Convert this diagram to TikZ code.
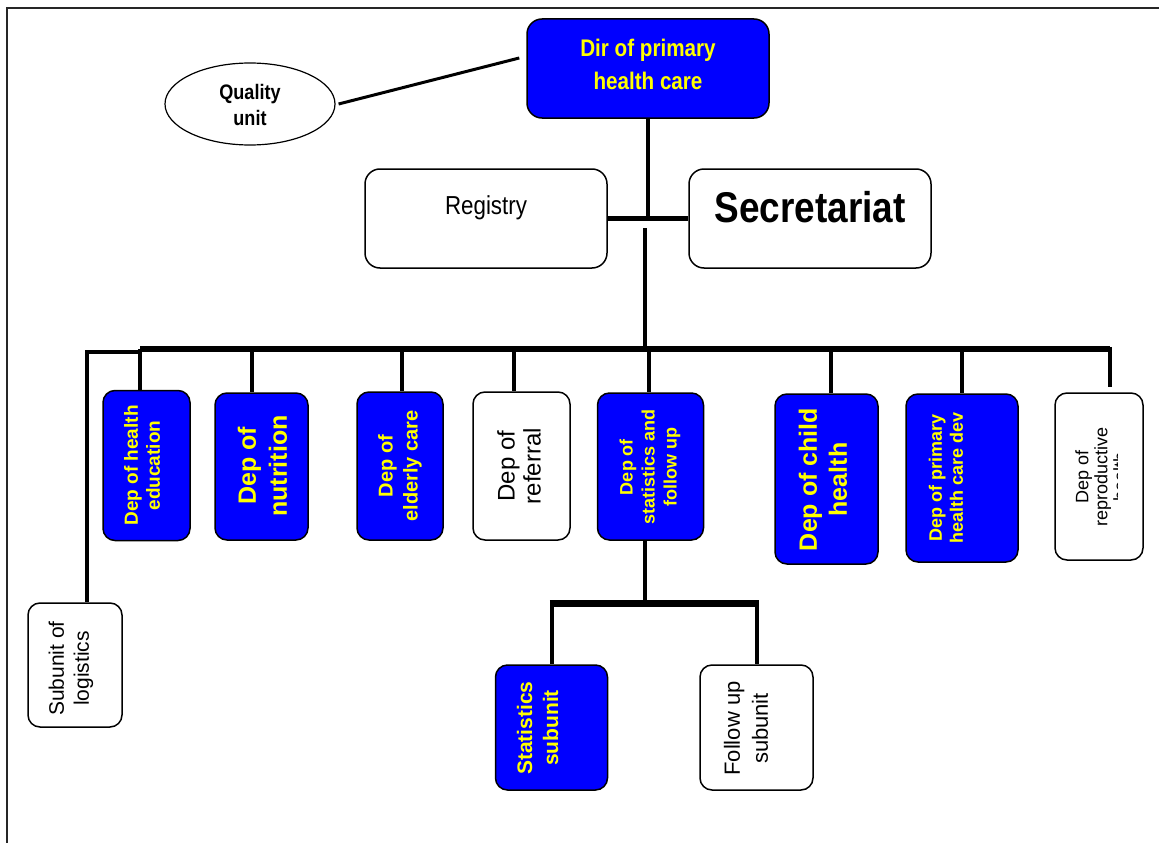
\documentclass[tikz,border=0pt]{standalone}
\usepackage{fontspec}
\setmainfont{Liberation Sans}
\newfontfamily\condfont[FakeStretch=0.86]{Liberation Sans}
\usetikzlibrary{shapes.geometric}
\definecolor{deptblue}{RGB}{0,0,255}
\definecolor{deptyellow}{RGB}{255,255,0}
\tikzset{
  box/.style={draw=black, line width=1.5pt, rounded corners=12pt, inner sep=0pt},
  bluebox/.style={box, fill=deptblue},
  whitebox/.style={box, fill=white},
  conn/.style={line width=4.5pt},
  vtext/.style={rotate=90, align=center, inner sep=0pt},
  ytext/.style={vtext, text=deptyellow},
  btext/.style={vtext, text=black},
}
\begin{document}
\begin{tikzpicture}[x=1pt,y=-1pt]
\useasboundingbox (0,0) rectangle (1159,843);
% frame
\draw[line width=2pt, black!85] (7,843) -- (7,8) -- (1159,8);

% top level
\node[bluebox, rounded corners=15pt, minimum width=242pt, minimum height=99pt] (dir) at (648,68.5) {};
\node[align=center, text=deptyellow, font=\condfont\bfseries\fontsize{24}{33}\selectfont] (dirt) at (648,64) {Dir of primary\\health care};

\node[ellipse, draw=black, line width=1.2pt, fill=white, minimum width=170pt, minimum height=82pt, inner sep=0pt] (q) at (250,104) {};
\node[align=center, font=\condfont\bfseries\fontsize{21}{26}\selectfont] (qt) at (250,105) {Quality\\unit};

\node[whitebox, rounded corners=15pt, minimum width=242pt, minimum height=99pt] (reg) at (486,218.5) {};
\node[font=\condfont\fontsize{26}{30}\selectfont] (regt) at (486,208) {Registry};

\node[whitebox, rounded corners=15pt, minimum width=242pt, minimum height=99pt] (sec) at (810,218.5) {};
\node[font=\condfont\bfseries\fontsize{43}{50}\selectfont] (sect) at (810,207) {Secretariat};

% departments
\node[bluebox, minimum width=87pt, minimum height=150pt] (he) at (146.5,465.5) {};
\node[ytext, font=\bfseries\fontsize{19}{22}\selectfont] (het) at (142,465.5) {Dep of health\\education};

\node[bluebox, minimum width=93pt, minimum height=147pt] (nu) at (261.5,466.5) {};
\node[ytext, font=\bfseries\fontsize{25}{31}\selectfont] (nut) at (262.5,466) {Dep of\\nutrition};

\node[bluebox, minimum width=86pt, minimum height=148pt] (el) at (400,466) {};
\node[ytext, font=\bfseries\fontsize{20}{25}\selectfont] (elt) at (400,466) {Dep of\\elderly care};

\node[whitebox, minimum width=97pt, minimum height=148pt] (rf) at (521.5,466) {};
\node[btext, font=\fontsize{24}{26}\selectfont] (rft) at (519,466) {Dep of\\referral};

\node[bluebox, minimum width=106pt, minimum height=147pt] (st) at (650.5,466.5) {};
\node[ytext, font=\bfseries\fontsize{18}{22}\selectfont] (stt) at (650,467) {Dep of\\statistics and\\follow up};

\node[bluebox, minimum width=103pt, minimum height=170pt] (ch) at (826.5,479) {};
\node[ytext, font=\bfseries\fontsize{25}{30}\selectfont] (cht) at (823,479.5) {Dep of child\\health};

\node[bluebox, minimum width=112pt, minimum height=168pt] (pd) at (962,478) {};
\node[ytext, font=\bfseries\fontsize{18}{21}\selectfont] (pdt) at (946,478) {Dep of primary\\health care dev};

\node[whitebox, minimum width=88pt, minimum height=167pt] (rp) at (1099,476.5) {};
\begin{scope}
\clip (1056,393) rectangle (1117,560);
\node[btext, font=\fontsize{18}{19}\selectfont] (rpt) at (1101,477) {Dep of\\reproductive\\health};
\end{scope}

\node[whitebox, minimum width=94pt, minimum height=124pt] (lo) at (75,665) {};
\node[btext, font=\fontsize{21}{25}\selectfont] (lot) at (71,668.5) {Subunit of\\logistics};

\node[bluebox, minimum width=112pt, minimum height=125pt] (ss) at (551.5,727.5) {};
\node[ytext, font=\bfseries\fontsize{21}{26}\selectfont] (sst) at (537.5,728) {Statistics\\subunit};

\node[whitebox, minimum width=113pt, minimum height=125pt] (fu) at (756.5,727.5) {};
\node[btext, font=\fontsize{22}{28}\selectfont] (fut) at (746,728.5) {Follow up\\subunit};

% connectors
\draw[line width=3pt] ([xshift=3pt]q.east) -- ([xshift=-7pt,yshift=10.5pt]dir.west);
\coordinate (j1) at (dir.south |- reg.east);
\draw[conn] (dir.south) -- (j1);
\draw[conn] (reg.east) -- (sec.west);
\coordinate (v2) at (645,228);
\coordinate (busL) at (140,349);
\coordinate (busR) at (1110,349);
\draw[conn] (v2) -- (v2 |- busL);
\draw[line width=6pt] (busL) -- (busR);
\coordinate (lb) at (87,352);
\draw[conn] ([xshift=2pt]busL |- lb) -- (lb) -- (lb |- lo.north);
\coordinate (dhe) at (140,349);
\coordinate (dnu) at (252,349);
\coordinate (del) at (402,349);
\coordinate (drf) at (514,349);
\coordinate (dst) at (649,349);
\coordinate (dch) at (831,349);
\coordinate (dpd) at (962,349);
\draw[conn] (dhe) -- (dhe |- he.north);
\draw[conn] (dnu) -- (dnu |- nu.north);
\draw[conn] (del) -- (del |- el.north);
\draw[conn] (drf) -- (drf |- rf.north);
\draw[conn] (dst) -- (dst |- st.north);
\draw[conn] (dch) -- (dch |- ch.north);
\draw[conn] (dpd) -- (dpd |- pd.north);
\draw[conn] ([yshift=2.25pt]busR) -- ([yshift=5pt]busR |- rp.north);
% statistics subtree
\coordinate (sb) at (645,603);
\coordinate (sbl) at (552,603);
\coordinate (sbr) at (757,603);
\draw[conn] (sb |- st.south) -- (sb);
\draw[line width=7pt] ([xshift=-2.25pt]sbl) -- ([xshift=2.25pt]sbr);
\draw[conn] (sbl) -- (sbl |- ss.north);
\draw[conn] (sbr) -- (sbr |- fu.north);
\end{tikzpicture}
\end{document}
